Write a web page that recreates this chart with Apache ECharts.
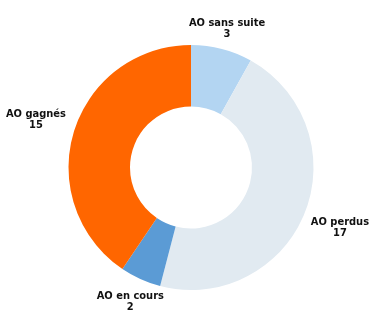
<!DOCTYPE html>
<html>
<head>
<meta charset="utf-8">
<script src="https://cdn.jsdelivr.net/npm/echarts@6/dist/echarts.min.js"></script>
<style>
html,body{margin:0;padding:0;background:#fff;}
#chart{width:375px;height:321px;}
</style>
</head>
<body>
<div id="chart"></div>
<script>
const categories = ['AO sans suite', 'AO perdus', 'AO en cours', 'AO gagnés'];
const values = [3, 17, 2, 15];
const colors = ['#b3d5f2', '#e1eaf1', '#5b9bd5', '#ff6600'];

const CX = 191, CY = 167.5, R_IN = 61, R_OUT = 122.5;
const total = values.reduce((a, b) => a + b, 0);
const cum = [];
values.reduce((acc, v, i) => { cum[i] = acc; return acc + v; }, 0);

const chart = echarts.init(document.getElementById('chart'), null, {renderer: 'canvas'});
chart.setOption({
  animation: false,
  series: [{
    type: 'pie',
    center: [CX, CY],
    radius: [R_IN, R_OUT],
    startAngle: 90,
    clockwise: true,
    avoidLabelOverlap: false,
    silent: true,
    data: categories.map((c, i) => ({name: c, value: values[i], itemStyle: {color: colors[i]}})),
    itemStyle: {borderWidth: 0},
    label: {
      show: true,
      position: 'outside',
      formatter: '{b}\n{c}',
      fontFamily: '"DejaVu Sans Condensed", "DejaVu Sans", sans-serif',
      fontWeight: 'bold',
      fontSize: 11,
      lineHeight: 11,
      color: '#111'
    },
    labelLine: {show: false},
    labelLayout: function (p) {
      const i = p.dataIndex;
      const mid = (90 - 360 * (cum[i] + values[i] / 2) / total) * Math.PI / 180;
      const ux = Math.cos(mid), uy = -Math.sin(mid);
      const d = R_OUT + 11 + Math.abs(ux) * p.labelRect.width / 2;
      return {x: CX + ux * d, y: CY + uy * d, align: 'center', verticalAlign: 'middle'};
    },
    emphasis: {disabled: true}
  }]
});
</script>
</body>
</html>
